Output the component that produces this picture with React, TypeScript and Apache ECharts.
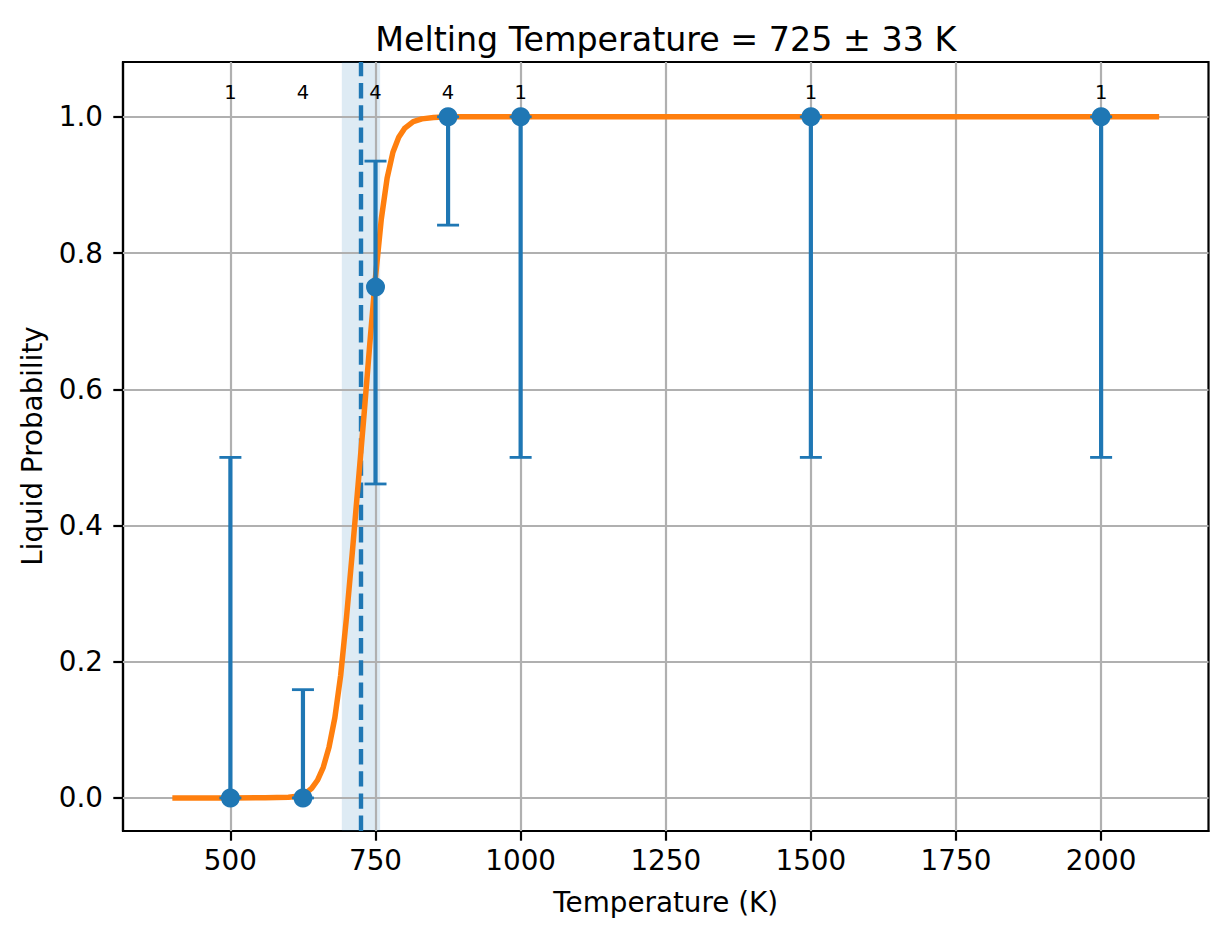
import React, { useEffect, useRef } from "react";
import * as echarts from "echarts";

// Measured data points
const tempK = [500, 625, 750, 875, 1000, 1500, 2000];
const liquidProb = [0, 0, 0.75, 1, 1, 1, 1];
const errLow = [0, 0, 0.461, 0.841, 0.5, 0.5, 0.5];
const errHigh = [0.5, 0.159, 0.935, 1, 1, 1, 1];
const sampleCounts = [1, 4, 4, 4, 1, 1, 1];
const countLabelY = 1.036;

// Fitted curve
const curveT = [400, 500, 560, 600, 620, 630, 640, 650, 660, 670, 680, 690, 700, 710, 720, 725, 730, 740, 750, 760, 770, 780, 790, 800, 815, 830, 850, 875, 900, 1000, 1500, 2100];
const curveP = [0, 0, 0.0002, 0.001, 0.003, 0.007, 0.014, 0.026, 0.045, 0.075, 0.118, 0.18, 0.265, 0.36, 0.46, 0.51, 0.56, 0.665, 0.765, 0.85, 0.91, 0.948, 0.97, 0.983, 0.993, 0.997, 0.999, 1, 1, 1, 1, 1];

const meltT = 725;
const meltErr = 33;

const xTicks = [500, 750, 1000, 1250, 1500, 1750, 2000];
const yTicks = [0, 0.2, 0.4, 0.6, 0.8, 1.0];

const titleText = "Melting Temperature = 725 ± 33 K";
const xName = "Temperature (K)";
const yName = "Liquid Probability";

const BLUE = "#1f77b4";
const ORANGE = "#ff7f0e";
const GRID = "#b0b0b0";
const FONT = "DejaVu Sans";

export default function App() {
  const ref = useRef<HTMLDivElement>(null);

  useEffect(() => {
    if (!ref.current) return;
    const chart = echarts.init(ref.current, null, { renderer: "svg" });
    const plotLeft = 123;
    const plotRight = 18.5;
    const plotCenterX = plotLeft + (1227 - plotLeft - plotRight) / 2;

    const textStyle = (text: string, size: number) => ({
      text,
      fontSize: size,
      fontFamily: FONT,
      fill: "#000",
      align: "center",
      verticalAlign: "middle",
      textAlign: "center",
      textVerticalAlign: "middle",
    });

    const option: any = {
      animation: false,
      backgroundColor: "#fff",
      grid: {
        left: plotLeft,
        right: plotRight,
        top: 62,
        bottom: 108,
        show: true,
        borderColor: "#000",
        borderWidth: 2.2,
        backgroundColor: "transparent",
      },
      xAxis: {
        type: "value",
        min: 315,
        max: 2185,
        splitLine: { show: false },
        axisLine: { show: true, onZero: false, lineStyle: { color: "#000", width: 2.2 } },
        axisTick: { show: true, customValues: xTicks, length: 9.7, lineStyle: { color: "#000", width: 2.2 } },
        axisLabel: {
          customValues: xTicks,
          color: "#000",
          fontSize: 27.8,
          fontFamily: FONT,
          margin: 15,
          formatter: (v: number) => String(v),
        },
      },
      yAxis: {
        type: "value",
        min: -0.0485,
        max: 1.0805,
        splitLine: { show: false },
        axisLine: { show: true, onZero: false, lineStyle: { color: "#000", width: 2.2 } },
        axisTick: { show: true, customValues: yTicks, length: 9.7, lineStyle: { color: "#000", width: 2.2 } },
        axisLabel: {
          customValues: yTicks,
          color: "#000",
          fontSize: 27.8,
          fontFamily: FONT,
          margin: 20,
          formatter: (v: number) => v.toFixed(1),
        },
      },
      graphic: [
        { type: "text", x: plotCenterX, y: 39, style: textStyle(titleText, 33.3) },
        { type: "text", x: plotCenterX, y: 902, style: textStyle(xName, 27.8) },
        { type: "text", x: 32, y: 446, rotation: Math.PI / 2, style: textStyle(yName, 27.8) },
      ],
      series: [
        {
          name: "band",
          type: "line",
          data: [],
          z: 1,
          silent: true,
          markArea: {
            z: 1,
            silent: true,
            itemStyle: { color: "rgba(31,119,180,0.15)" },
            data: [[{ xAxis: meltT - meltErr }, { xAxis: meltT + meltErr }]],
          },
        },
        {
          name: "grid",
          type: "line",
          data: [],
          z: 2,
          silent: true,
          markLine: {
            z: 2,
            silent: true,
            symbol: ["none", "none"],
            label: { show: false },
            lineStyle: { color: GRID, width: 2.2, type: "solid" },
            emphasis: { disabled: true },
            data: [
              ...xTicks.map((v) => ({ xAxis: v })),
              ...yTicks.map((v) => ({ yAxis: v })),
            ],
          },
        },
        {
          name: "meltLine",
          type: "line",
          data: [],
          z: 3,
          silent: true,
          markLine: {
            z: 3,
            silent: true,
            symbol: ["none", "none"],
            label: { show: false },
            lineStyle: { color: BLUE, width: 4.4, type: [15.4, 6.8] },
            emphasis: { disabled: true },
            data: [{ xAxis: meltT }],
          },
        },
        {
          name: "fit",
          type: "line",
          z: 4,
          data: curveT.map((t, i) => [t, curveP[i]]),
          showSymbol: false,
          smooth: false,
          lineStyle: { color: ORANGE, width: 5.5, cap: "butt", join: "round" },
          silent: true,
        },
        {
          name: "errorbars",
          type: "custom",
          z: 5,
          silent: true,
          data: tempK.map((t, i) => [t, errLow[i], errHigh[i]]),
          encode: { x: 0, y: [1, 2] },
          renderItem: (params: any, api: any) => {
            const x = api.value(0);
            const lo = api.coord([x, api.value(1)]);
            const hi = api.coord([x, api.value(2)]);
            const cap = 11;
            return {
              type: "group",
              children: [
                {
                  type: "line",
                  shape: { x1: lo[0], y1: lo[1], x2: hi[0], y2: hi[1] },
                  style: { stroke: BLUE, lineWidth: 4.2 },
                },
                {
                  type: "line",
                  shape: { x1: lo[0] - cap, y1: lo[1], x2: lo[0] + cap, y2: lo[1] },
                  style: { stroke: BLUE, lineWidth: 2.8 },
                },
                {
                  type: "line",
                  shape: { x1: hi[0] - cap, y1: hi[1], x2: hi[0] + cap, y2: hi[1] },
                  style: { stroke: BLUE, lineWidth: 2.8 },
                },
              ],
            };
          },
        },
        {
          name: "points",
          type: "scatter",
          z: 6,
          silent: true,
          symbol: "circle",
          symbolSize: 19,
          itemStyle: { color: BLUE, opacity: 1 },
          data: tempK.map((t, i) => [t, liquidProb[i]]),
        },
        {
          name: "counts",
          type: "custom",
          z: 7,
          silent: true,
          data: tempK.map((t, i) => [t, countLabelY, sampleCounts[i]]),
          encode: { x: 0, y: 1 },
          renderItem: (params: any, api: any) => {
            const p = api.coord([api.value(0), api.value(1)]);
            return {
              type: "text",
              x: p[0],
              y: p[1],
              style: textStyle(String(api.value(2)), 19.5),
            };
          },
        },
      ],
    };

    chart.setOption(option);
    return () => chart.dispose();
  }, []);

  return (
    <div
      ref={ref}
      style={{ position: "fixed", left: 0, top: 0, width: 1227, height: 939, background: "#fff" }}
    />
  );
}
